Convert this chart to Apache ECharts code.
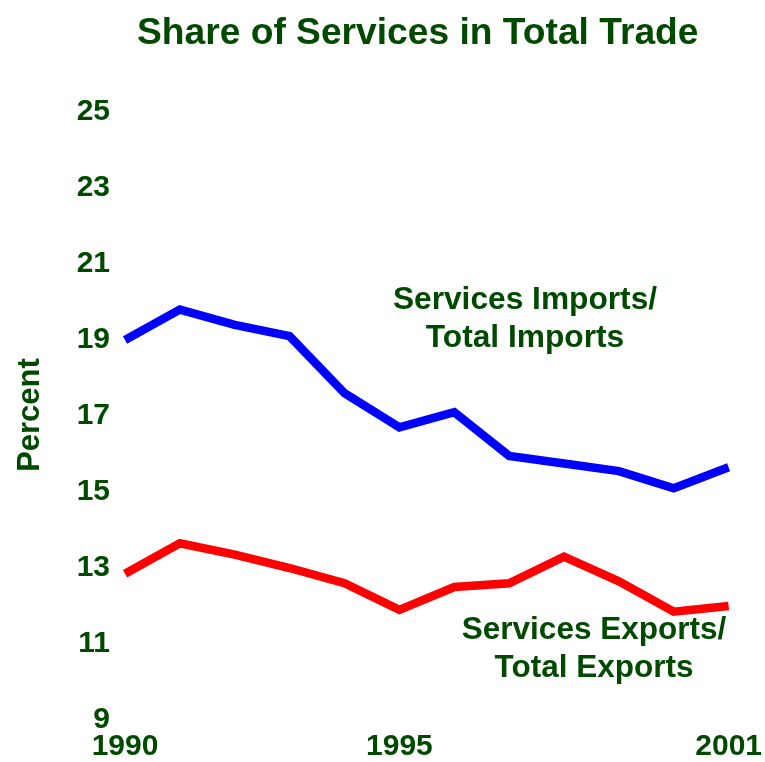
<!DOCTYPE html>
<html>
<head>
<meta charset="utf-8">
<script src="https://cdn.jsdelivr.net/npm/echarts@6/dist/echarts.min.js"></script>
<style>
  html, body { margin: 0; padding: 0; background: #ffffff; }
  #chart { width: 765px; height: 762px; }
</style>
</head>
<body>
<div id="chart"></div>
<script>
// Share of services in total trade, percent, 1990-2001
const years = [1990, 1991, 1992, 1993, 1994, 1995, 1996, 1997, 1998, 1999, 2000, 2001];
const importsShare = [19.0, 19.8, 19.4, 19.1, 17.6, 16.7, 17.1, 15.95, 15.75, 15.55, 15.1, 15.65];
const exportsShare = [12.85, 13.65, 13.35, 13.0, 12.6, 11.9, 12.5, 12.6, 13.3, 12.65, 11.85, 12.0];
const yearTicks = [1990, 1995, 2001];

const green = '#004a00';
const font = 'Liberation Sans, Arial, Helvetica, sans-serif';

const pairs = (vals) => years.map((y, i) => [y, vals[i]]);

const chart = echarts.init(document.getElementById('chart'), null, { renderer: 'canvas' });

chart.setOption({
  backgroundColor: '#ffffff',
  animation: false,
  title: {
    text: 'Share of Services in Total Trade',
    left: 132,
    top: 10,
    textStyle: { color: green, fontFamily: font, fontWeight: 'bold', fontSize: 37.2 }
  },
  grid: { left: 125, right: 35, top: 112, bottom: 40 },
  xAxis: {
    type: 'value',
    min: 1990,
    max: 2001,
    interval: 1,
    axisLine: { show: false },
    axisTick: { show: false },
    splitLine: { show: false },
    axisLabel: {
      margin: 12,
      color: green,
      fontFamily: font,
      fontWeight: 'bold',
      fontSize: 30,
      showMinLabel: true,
      showMaxLabel: true,
      formatter: (v) => (yearTicks.includes(v) ? String(v) : '')
    }
  },
  yAxis: {
    type: 'value',
    min: 9,
    max: 25,
    interval: 2,
    axisLine: { show: false },
    axisTick: { show: false },
    splitLine: { show: false },
    axisLabel: {
      margin: 15,
      color: green,
      fontFamily: font,
      fontWeight: 'bold',
      fontSize: 30
    }
  },
  series: [
    {
      name: 'Services Imports/Total Imports',
      type: 'line',
      data: pairs(importsShare),
      symbol: 'none',
      clip: true,
      lineStyle: { color: '#0000ff', width: 8.5, cap: 'butt', join: 'miter' }
    },
    {
      name: 'Services Exports/Total Exports',
      type: 'line',
      data: pairs(exportsShare),
      symbol: 'none',
      clip: true,
      lineStyle: { color: '#ff0000', width: 8.5, cap: 'butt', join: 'miter' }
    }
  ],
  graphic: [
    {
      type: 'text',
      x: 30,
      y: 415,
      rotation: Math.PI / 2,
      style: {
        text: 'Percent',
        fill: green,
        font: 'bold 31px ' + font,
        align: 'center',
        verticalAlign: 'middle'
      }
    },
    {
      type: 'text',
      x: 525,
      y: 319,
      style: {
        text: 'Services Imports/\nTotal Imports',
        fill: green,
        font: 'bold 31.7px ' + font,
        lineHeight: 38,
        align: 'center',
        verticalAlign: 'middle'
      }
    },
    {
      type: 'text',
      x: 594,
      y: 649,
      style: {
        text: 'Services Exports/\nTotal Exports',
        fill: green,
        font: 'bold 31.5px ' + font,
        lineHeight: 38,
        align: 'center',
        verticalAlign: 'middle'
      }
    }
  ]
});
</script>
</body>
</html>
